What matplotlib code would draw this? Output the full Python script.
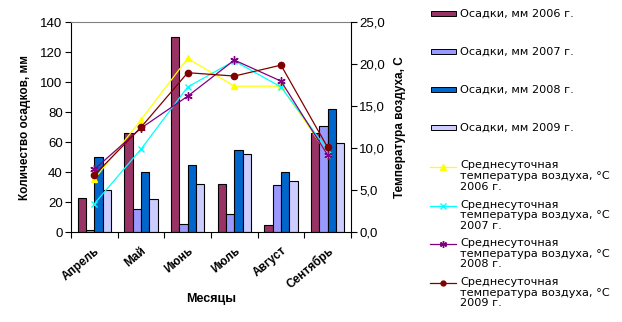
import matplotlib
matplotlib.use("Agg")
import matplotlib.pyplot as plt
import numpy as np
from matplotlib.lines import Line2D
from matplotlib.patches import Rectangle
from matplotlib.ticker import FuncFormatter, FixedLocator
from matplotlib.transforms import ScaledTranslation

plt.rcParams["font.family"] = ["Liberation Sans", "DejaVu Sans"]

months = ["Апрель", "Май", "Июнь", "Июль", "Август", "Сентябрь"]

# precipitation, mm
rain_2006 = [23, 66, 130, 32, 5, 66]
rain_2007 = [1.5, 15.5, 5.5, 12, 31.5, 71]
rain_2008 = [50, 40, 45, 55, 40, 82.5]
rain_2009 = [28, 22, 32, 52, 34, 59.5]

# mean daily air temperature, C
temp_2006 = [6.3, 13.4, 20.7, 17.4, 17.4, 9.3]
temp_2007 = [3.4, 9.9, 17.3, 20.4, 17.3, 9.8]
temp_2008 = [7.5, 12.4, 16.2, 20.5, 18.0, 9.2]
temp_2009 = [6.8, 12.5, 19.0, 18.6, 19.9, 10.1]

years = ["2006", "2007", "2008", "2009"]
rain = [rain_2006, rain_2007, rain_2008, rain_2009]
temps = [temp_2006, temp_2007, temp_2008, temp_2009]

bar_colours = ["#993366", "#9999ff", "#0066cc", "#ccccff"]
line_colours = ["#ffff00", "#00ffff", "#800080", "#800000"]
line_markers = ["^", "x", (6, 2, 0), "o"]
marker_sizes = [5, 5, 6, 4.5]

W, H = 622, 322
fig = plt.figure(figsize=(W / 100, H / 100), dpi=100)
ax = fig.add_axes([71 / W, 1 - 232.3 / H, 280 / W, 210 / H])

x = np.arange(len(months))
bw = 0.178
for k, (vals, col) in enumerate(zip(rain, bar_colours)):
    ax.bar(x + (k - 1.5) * bw, vals, bw, color=col, edgecolor="black",
           linewidth=0.8, zorder=2)

ax.set_xlim(-0.5, len(months) - 0.5)
ax.set_ylim(0, 140)
ax.set_yticks(np.arange(0, 141, 20))
ax.tick_params(axis="y", direction="out", length=4, width=0.8, labelsize=9.5,
               pad=2)
ax.xaxis.set_major_locator(FixedLocator(np.arange(-0.5, len(months), 1.0)))
ax.xaxis.set_major_formatter(FuncFormatter(lambda v, p: ""))
ax.xaxis.set_minor_locator(FixedLocator(x))
ax.set_xticklabels(months, minor=True, rotation=40, ha="right", va="top",
                   rotation_mode="anchor", fontsize=8.5, fontweight="bold")
shift = ScaledTranslation(-12 / 100, 0, fig.dpi_scale_trans)
for lab in ax.get_xticklabels(minor=True):
    lab.set_transform(lab.get_transform() + shift)
ax.tick_params(axis="x", which="major", direction="out", length=4, width=0.8)
ax.tick_params(axis="x", which="minor", length=0, pad=9)
for s in ("left", "bottom"):
    ax.spines[s].set_linewidth(0.8)
ax.spines["top"].set_color("#808080")
ax.spines["top"].set_linewidth(0.8)
ax.spines["right"].set_visible(False)
ax.set_ylabel("Количество осадков, мм", fontsize=8.5, fontweight="bold",
              labelpad=7)
ax.set_xlabel("Месяцы", fontsize=9, fontweight="bold", labelpad=1)

ax2 = ax.twinx()
for vals, col, mk, ms in zip(temps, line_colours, line_markers, marker_sizes):
    ax2.plot(x, vals, color=col, lw=0.9, marker=mk, markersize=ms,
             markerfacecolor=col, markeredgecolor=col, markeredgewidth=1.0,
             zorder=3)
ax2.set_ylim(0, 25)
ax2.set_yticks(np.arange(0, 26, 5))
ax2.yaxis.set_major_formatter(FuncFormatter(lambda v, p: f"{v:.1f}".replace(".", ",")))
ax2.tick_params(axis="y", direction="out", length=4, width=0.8, labelsize=9.5,
                pad=2)
ax2.spines["right"].set_linewidth(0.8)
ax2.spines["top"].set_visible(False)
ax2.spines["left"].set_visible(False)
ax2.spines["bottom"].set_visible(False)
ax2.set_ylabel("Температура воздуха, С", fontsize=8.5, fontweight="bold",
               labelpad=6)

# legend, laid out in pixel units from the top-left corner
def fx(px):
    return px / W


def fy(py):
    return 1 - py / H


legend_font = dict(family=["DejaVu Sans"], fontsize=8.1)

for k, (yr, col) in enumerate(zip(years, bar_colours)):
    yc = [13.3, 51.7, 89.3, 127.7][k]
    fig.add_artist(Rectangle((fx(431), fy(yc + 2.5)), fx(25), 5 / H,
                             facecolor=col, edgecolor="black", linewidth=0.7,
                             transform=fig.transFigure))
    fig.text(fx(460), fy(yc), f"Осадки, мм {yr} г.", va="center", ha="left",
             **legend_font)

for k, (yr, col, mk, ms) in enumerate(zip(years, line_colours, line_markers,
                                          marker_sizes)):
    yc = [166.7, 206, 244.3, 283.3][k]
    fig.add_artist(Line2D([fx(430), fx(456)], [fy(yc), fy(yc)], color=col,
                          lw=0.9, transform=fig.transFigure))
    fig.add_artist(Line2D([fx(443)], [fy(yc)], color=col, marker=mk,
                          markersize=ms - 1, markerfacecolor=col,
                          markeredgecolor=col, transform=fig.transFigure))
    fig.text(fx(460), fy(yc - 6.5),
             f"Среднесуточная\nтемпература воздуха, °С\n{yr} г.",
             va="top", ha="left", linespacing=1.1, **legend_font)

fig.savefig("out.png", dpi=100)
